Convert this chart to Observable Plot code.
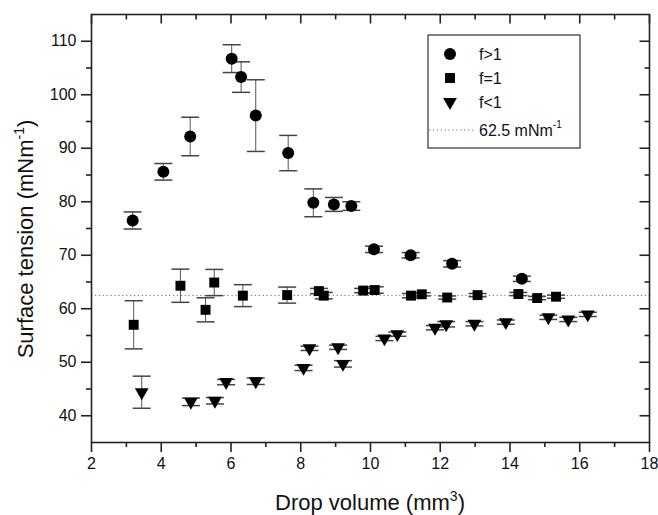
<!DOCTYPE html>
<html><head><meta charset="utf-8">
<script src="https://cdn.jsdelivr.net/npm/d3@7"></script>
<script src="https://cdn.jsdelivr.net/npm/@observablehq/plot@0.6"></script>
<style>
html,body{margin:0;padding:0;background:#fff;}
#chart{width:658px;height:515px;}
</style></head><body><div id="chart"></div>
<script>
// f>1 (circles)
const circX = [3.18,4.06,4.83,6.02,6.29,6.71,7.64,8.36,8.95,9.45,10.10,11.15,12.34,14.34];
const circY = [76.5,85.6,92.2,106.75,103.3,96.1,89.1,79.8,79.5,79.2,71.1,70.0,68.4,65.6];
const circE = [1.6,1.55,3.6,2.6,2.85,6.7,3.3,2.6,1.3,0.8,0.6,0.5,0.6,0.5];
// f=1 (squares)
const sqX = [3.21,4.55,5.27,5.52,6.34,7.61,8.52,8.66,9.79,10.12,11.16,11.47,12.20,13.07,14.24,14.78,15.32];
const sqY = [57.0,64.3,59.8,64.9,62.45,62.55,63.3,62.45,63.4,63.5,62.45,62.7,62.1,62.55,62.75,62.0,62.25];
const sqE = [4.5,3.1,2.25,2.45,2.05,1.5,0.5,0.6,0.4,0.6,0.4,0.3,0.3,0.3,0.3,0.3,0.3];
// f<1 (down triangles)
const triX = [3.44,4.85,5.54,5.86,6.71,8.08,8.25,9.07,9.21,10.40,10.77,11.85,12.17,12.98,13.88,15.10,15.67,16.23];
const triY = [44.4,42.6,42.8,46.3,46.45,48.95,52.6,52.8,49.7,54.45,55.25,56.45,57.1,57.2,57.5,58.4,58.0,58.95];
const triE = [3.0,0.7,0.6,0.5,0.6,0.5,0.4,0.4,0.6,0.4,0.4,0.4,0.5,0.4,0.4,0.4,0.4,0.4];
const refValue = 62.5;

const seriesNames = ["f>1","f=1","f<1"];
const refLabel = "62.5 mNm";
const xTitle = "Drop volume (mm";
const yTitle = "Surface tension (mNm";

const xMajor = [2,4,6,8,10,12,14,16,18];
const xMinor = [3,5,7,9,11,13,15,17];
const yMajor = [40,50,60,70,80,90,100,110];
const yMinor = [45,55,65,75,85,95,105];

const rows = (xs, ys, es) => xs.map((x,i)=>({x, y: ys[i], lo: ys[i]-es[i], hi: ys[i]+es[i]}));
const circ = rows(circX, circY, circE);
const sq = rows(sqX, sqY, sqE);
const tri = rows(triX, triY, triE);
const all = [...circ, ...sq, ...tri];

const capSym = {draw(c){c.moveTo(-9,0); c.lineTo(9,0);}};
const triDown = {draw(c, size){const y = -Math.sqrt(size/(3*Math.sqrt(3))); const s = Math.sqrt(3);
  c.moveTo(0,-2*y); c.lineTo(s*y, y); c.lineTo(-s*y, y); c.closePath();}};
const tickDn = (L) => ({draw(c){c.moveTo(0,0); c.lineTo(0,L);}});
const tickLf = (L) => ({draw(c){c.moveTo(0,0); c.lineTo(-L,0);}});

const rCirc = 6, rSq = 5.6, rTri = 5.1;
const axisColor = "#222";
const plot = Plot.plot({
  width: 658, height: 515,
  marginLeft: 91, marginRight: 9, marginTop: 14, marginBottom: 73,
  x: {domain: [2,18]},
  y: {domain: [35,115]},
  style: {fontFamily: "'Liberation Sans', Arial, sans-serif", fontSize: "16px", color: "#111", background: "#fff"},
  marks: [
    Plot.ruleY([refValue], {stroke: "#777", strokeDasharray: "1.3,2.6"}),
    Plot.ruleX(all, {x: "x", y1: "lo", y2: "hi", stroke: "#555"}),
    Plot.dot(all, {x: "x", y: "hi", symbol: capSym, r: 1, stroke: "#444", fill: "none"}),
    Plot.dot(all, {x: "x", y: "lo", symbol: capSym, r: 1, stroke: "#444", fill: "none"}),
    Plot.dot(circ, {x: "x", y: "y", r: rCirc, symbol: "circle", fill: "#000", stroke: "none"}),
    Plot.dot(sq, {x: "x", y: "y", r: rSq, symbol: "square", fill: "#000", stroke: "none"}),
    Plot.dot(tri, {x: "x", y: "y", r: rTri, symbol: triDown, fill: "#000", stroke: "none"}),
    Plot.axisX({ticks: xMajor, tickSize: 10, tickPadding: 5, label: null, stroke: axisColor, strokeWidth: 1.6, fill: "#111"}),
    Plot.axisX({ticks: xMinor, tickSize: 5, tickFormat: () => "", label: null, stroke: axisColor, strokeWidth: 1.6}),
    Plot.axisY({ticks: yMajor, tickSize: 10, tickPadding: 5, label: null, stroke: axisColor, strokeWidth: 1.6, fill: "#111"}),
    Plot.axisY({ticks: yMinor, tickSize: 5, tickFormat: () => "", label: null, stroke: axisColor, strokeWidth: 1.6}),
    Plot.dot(xMajor, {x: d => d, frameAnchor: "top", symbol: tickDn(9), r: 1, stroke: axisColor, strokeWidth: 1.6, fill: "none"}),
    Plot.dot(xMinor, {x: d => d, frameAnchor: "top", symbol: tickDn(5), r: 1, stroke: axisColor, strokeWidth: 1.6, fill: "none"}),
    Plot.dot(yMajor, {y: d => d, frameAnchor: "right", symbol: tickLf(10), r: 1, stroke: axisColor, strokeWidth: 1.6, fill: "none"}),
    Plot.dot(yMinor, {y: d => d, frameAnchor: "right", symbol: tickLf(5), r: 1, stroke: axisColor, strokeWidth: 1.6, fill: "none"}),
    Plot.frame({stroke: axisColor, strokeWidth: 1.6})
  ]
});
document.getElementById("chart").appendChild(plot);

const svg = d3.select(plot);
const ff = "'Liberation Sans', Arial, sans-serif";
// axis titles
const xt = svg.append("text").attr("x", 370).attr("y", 510).attr("text-anchor", "middle")
  .attr("font-family", ff).attr("font-size", 22).attr("fill", "#111");
xt.append("tspan").text(xTitle);
xt.append("tspan").attr("dy", -9).attr("font-size", 14).text("3");
xt.append("tspan").attr("dy", 9).text(")");

const yt = svg.append("text").attr("transform", "translate(33,239) rotate(-90)").attr("text-anchor", "middle")
  .attr("font-family", ff).attr("font-size", 22).attr("fill", "#111");
yt.append("tspan").text(yTitle);
yt.append("tspan").attr("dy", -9).attr("font-size", 14).text("-1");
yt.append("tspan").attr("dy", 9).text(")");

// legend
const lg = svg.append("g").attr("font-family", ff).attr("font-size", 16).attr("fill", "#111").attr("text-anchor", "start");
lg.append("rect").attr("x", 428).attr("y", 35).attr("width", 152).attr("height", 113)
  .attr("fill", "#fff").attr("stroke", "#333").attr("stroke-width", 1.2);
const symDefs = [
  {sym: d3.symbol(d3.symbolCircle, Math.PI*rCirc*rCirc), y: 54},
  {sym: d3.symbol(d3.symbolSquare, Math.PI*rSq*rSq), y: 78},
  {sym: d3.symbol(triDown, Math.PI*rTri*rTri), y: 102}
];
symDefs.forEach((s, i) => {
  lg.append("path").attr("d", s.sym()).attr("transform", `translate(450,${s.y})`).attr("fill", "#000");
  lg.append("text").attr("x", 479).attr("y", s.y + 6).attr("text-anchor", "start").text(seriesNames[i]);
});
lg.append("line").attr("x1", 429).attr("x2", 474).attr("y1", 130).attr("y2", 130)
  .attr("stroke", "#777").attr("stroke-dasharray", "1.3,2.6");
const rt = lg.append("text").attr("x", 479).attr("y", 136).attr("text-anchor", "start");
rt.append("tspan").text(refLabel);
rt.append("tspan").attr("dy", -8).attr("font-size", 10).text("-1");
</script>
</body></html>
